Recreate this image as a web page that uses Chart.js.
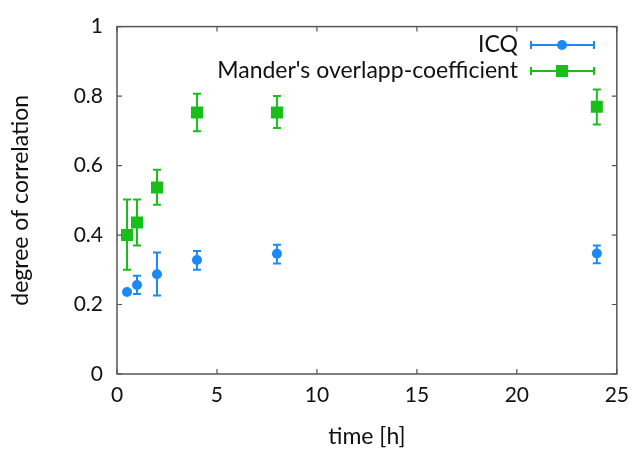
<!DOCTYPE html>
<html>
<head>
<meta charset="utf-8">
<script src="https://cdn.jsdelivr.net/npm/chart.js@4/dist/chart.umd.min.js"></script>
<style>
  html, body { margin: 0; padding: 0; background: #fff; }
  #wrap { width: 638px; height: 450px; }
</style>
</head>
<body>
<div id="wrap"><canvas id="corrChart" width="638" height="450"></canvas></div>
<script>
Chart.defaults.font.family = "Lato";
Chart.defaults.font.size = 21;
Chart.defaults.color = '#111';

// time points [h]
let time_h = [0.5, 1, 2, 4, 8, 24]

// ICQ values and error bar limits
let icq_val = [0.236, 0.256, 0.287, 0.328, 0.346, 0.347]
let icq_low = [0.232, 0.230, 0.226, 0.300, 0.318, 0.319]
let icq_high = [0.240, 0.283, 0.350, 0.354, 0.372, 0.370]

// Mander's overlap coefficient values and error bar limits
let mander_val = [0.400, 0.436, 0.537, 0.753, 0.753, 0.769]
let mander_low = [0.300, 0.370, 0.487, 0.699, 0.708, 0.718]
let mander_high = [0.502, 0.502, 0.588, 0.807, 0.800, 0.819]

let x_ticks = [0, 5, 10, 15, 20, 25]
let y_ticks = [0, 0.2, 0.4, 0.6, 0.8, 1]

const blue = '#1d88fa'
const green = '#19bf19'

function makePoints(xs, ys, lo, hi) {
  let pts = []
  for (let i = 0; i < xs.length; i++) {
    pts.push({x: xs[i], y: ys[i], lo: lo[i], hi: hi[i]})
  }
  return pts
}

// error bars, frame with inward ticks, and the gnuplot-like key
const extras = {
  id: 'extras',
  beforeDatasetsDraw(chart) {
    const ctx = chart.ctx
    const xs = chart.scales.x, ys = chart.scales.y
    chart.data.datasets.forEach(ds => {
      ctx.save()
      ctx.strokeStyle = ds.borderColor
      ctx.lineWidth = 2
      ds.data.forEach(p => {
        const px = xs.getPixelForValue(p.x)
        const y1 = ys.getPixelForValue(p.lo)
        const y2 = ys.getPixelForValue(p.hi)
        ctx.beginPath()
        ctx.moveTo(px, y1); ctx.lineTo(px, y2)
        ctx.moveTo(px - 4, y1); ctx.lineTo(px + 4, y1)
        ctx.moveTo(px - 4, y2); ctx.lineTo(px + 4, y2)
        ctx.stroke()
      })
      ctx.restore()
    })
  },
  afterDraw(chart) {
    const ctx = chart.ctx
    const a = chart.chartArea
    const xs = chart.scales.x, ys = chart.scales.y
    ctx.save()
    ctx.strokeStyle = '#555'
    ctx.lineWidth = 1.5
    ctx.strokeRect(a.left, a.top, a.right - a.left, a.bottom - a.top)
    ctx.lineWidth = 1.2
    ctx.beginPath()
    x_ticks.forEach(v => {
      const px = xs.getPixelForValue(v)
      ctx.moveTo(px, a.bottom); ctx.lineTo(px, a.bottom - 5)
      ctx.moveTo(px, a.top); ctx.lineTo(px, a.top + 5)
    })
    y_ticks.forEach(v => {
      const py = ys.getPixelForValue(v)
      ctx.moveTo(a.left, py); ctx.lineTo(a.left + 5, py)
      ctx.moveTo(a.right, py); ctx.lineTo(a.right - 5, py)
    })
    ctx.stroke()

    // key
    const rows = [45, 71]
    chart.data.datasets.forEach((ds, i) => {
      const y = rows[i]
      ctx.fillStyle = '#111'
      ctx.font = '23px Lato'
      ctx.textAlign = 'right'
      ctx.textBaseline = 'middle'
      ctx.fillText(ds.label, 518, y)
      ctx.strokeStyle = ds.borderColor
      ctx.lineWidth = 2
      ctx.beginPath()
      ctx.moveTo(531, y); ctx.lineTo(594, y)
      ctx.moveTo(531, y - 4); ctx.lineTo(531, y + 4)
      ctx.moveTo(594, y - 4); ctx.lineTo(594, y + 4)
      ctx.stroke()
      ctx.fillStyle = ds.backgroundColor
      ctx.beginPath()
      if (ds.pointStyle == 'rect') {
        ctx.rect(556, y - 6, 12, 12)
      } else {
        ctx.arc(562, y, 5, 0, Math.PI * 2)
      }
      ctx.fill()
    })
    ctx.restore()
  }
}

const ctx = document.getElementById('corrChart').getContext('2d')

var myChart = new Chart(ctx, {
  type: 'scatter',
  data: {
    datasets: [
      {
        label: 'ICQ',
        data: makePoints(time_h, icq_val, icq_low, icq_high),
        borderColor: blue,
        backgroundColor: blue,
        pointStyle: 'circle',
        pointRadius: 5,
        pointBorderWidth: 0
      },
      {
        label: "Mander's overlapp-coefficient",
        data: makePoints(time_h, mander_val, mander_low, mander_high),
        borderColor: green,
        backgroundColor: green,
        pointStyle: 'rect',
        pointRadius: 8.5,
        pointBorderWidth: 0
      }
    ]
  },
  options: {
    responsive: false,
    animation: false,
    layout: { padding: { top: 24, right: 17, left: 0, bottom: 0 } },
    plugins: {
      legend: { display: false },
      tooltip: { enabled: false }
    },
    scales: {
      x: {
        type: 'linear',
        min: 0, max: 25,
        border: { display: false },
        grid: { display: false, drawTicks: false },
        afterBuildTicks: s => { s.ticks = x_ticks.map(v => ({value: v})) },
        afterFit: s => { s.height = 76 },
        ticks: { padding: 9, maxRotation: 0, callback: v => String(v) },
        title: { display: true, text: 'time [h]', font: { size: 23 }, padding: { top: 0, bottom: 0 } }
      },
      y: {
        type: 'linear',
        min: 0, max: 1,
        border: { display: false },
        grid: { display: false, drawTicks: false },
        afterBuildTicks: s => { s.ticks = y_ticks.map(v => ({value: v})) },
        afterFit: s => { s.width = 117 },
        ticks: { padding: 14, callback: v => String(v) },
        title: { display: true, text: 'degree of correlation', font: { size: 23 }, padding: { top: 7, bottom: 0 } }
      }
    }
  },
  plugins: [extras]
})
</script>
</body>
</html>
